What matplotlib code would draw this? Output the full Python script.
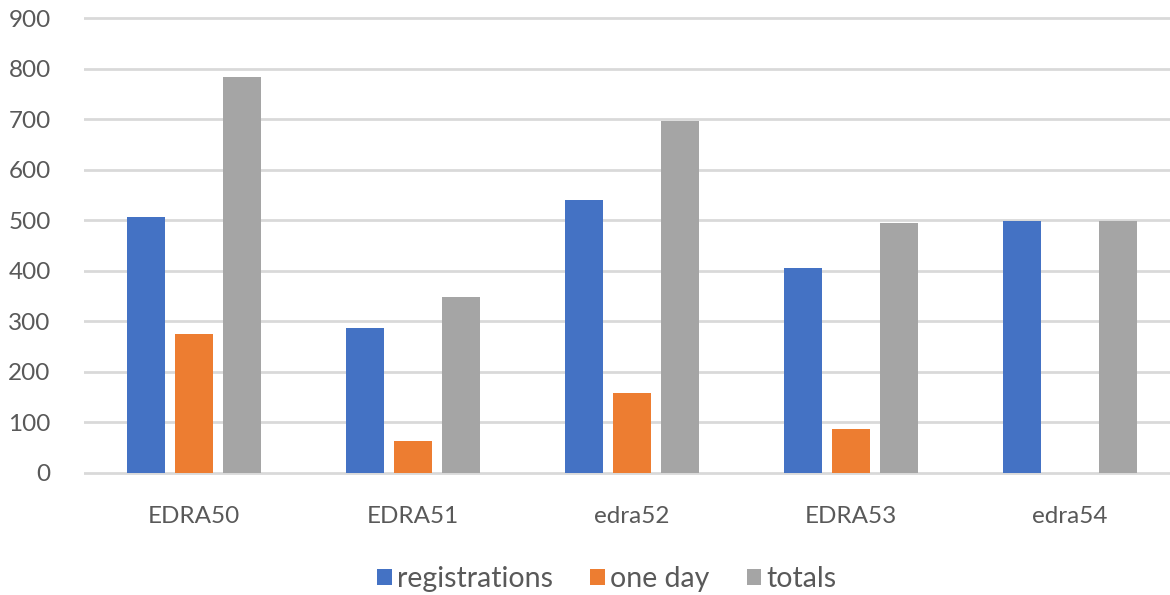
import matplotlib
matplotlib.use("Agg")
import matplotlib.pyplot as plt
import numpy as np
from matplotlib.patches import Patch

categories = ["EDRA50", "EDRA51", "edra52", "EDRA53", "edra54"]
registrations = [507, 287, 540, 405, 498]
one_day = [274, 63, 158, 87, 0]
totals = [784, 348, 697, 494, 498]
yticks = [0, 100, 200, 300, 400, 500, 600, 700, 800, 900]

colors = ["#4472C4", "#ED7D31", "#A5A5A5"]
series = [registrations, one_day, totals]
names = ["registrations", "one day", "totals"]

plt.rcParams["font.family"] = ["Lato", "DejaVu Sans"]
W, H = 1170, 595
fig = plt.figure(figsize=(W / 100, H / 100), dpi=100)
fig.patch.set_facecolor("white")

ppu = (472.7 - 18.3) / 900.0
y_lo, y_hi = -5, 905
top_px = 18.3 - 5 * ppu
bot_px = 472.7 + 5 * ppu
left_px, right_px = 84, 1170
ax = fig.add_axes([left_px / W, 1 - bot_px / H, (right_px - left_px) / W, (bot_px - top_px) / H])

x = np.arange(len(categories))
bw = 38 / 219
off = 48 / 219
for i, (vals, c, n) in enumerate(zip(series, colors, names)):
    ax.bar(x + (i - 1) * off, vals, width=bw, color=c, label=n, zorder=3)

ax.set_xlim(-0.5, (1170 - 194) / 219)
ax.set_ylim(y_lo, y_hi)
ax.set_yticks(yticks)
ax.set_xticks(x)
ax.set_xticklabels(categories)
ax.grid(axis="y", color="#D9D9D9", linewidth=2, zorder=0)
ax.grid(axis="x", visible=False)
for s in ax.spines.values():
    s.set_visible(False)
ax.tick_params(axis="both", length=0, labelsize=17.5, colors="#595959")
ax.tick_params(axis="y", pad=24)
ax.tick_params(axis="x", pad=22)

handles = [Patch(facecolor=c, edgecolor="none") for c in colors]
fig.legend(handles, names, loc="center", bbox_to_anchor=(607 / W, 1 - 579 / H), ncol=3,
           frameon=False, fontsize=20.5, handlelength=0.5, handleheight=0.5,
           handletextpad=0.2, columnspacing=1.3, labelcolor="#595959")

fig.savefig("out.png", dpi=100, facecolor="white")
